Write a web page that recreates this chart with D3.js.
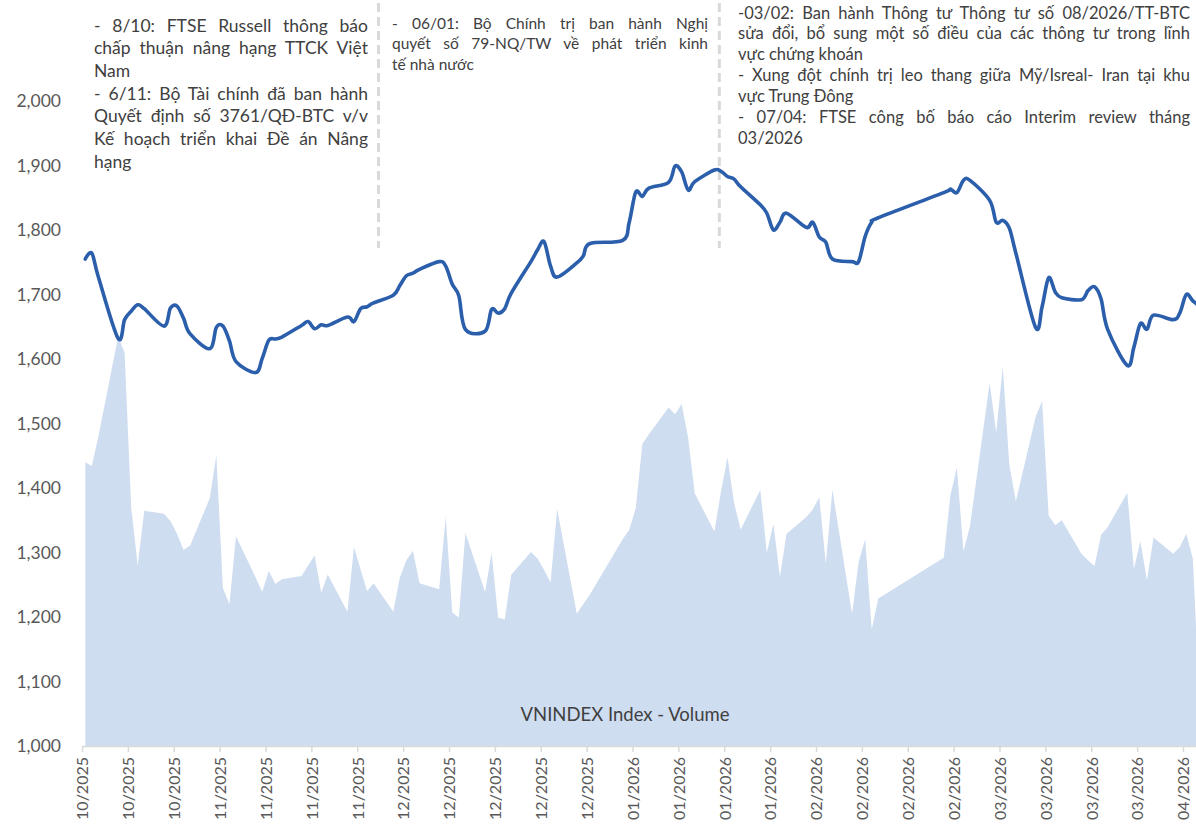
<!DOCTYPE html>
<html>
<head>
<meta charset="utf-8">
<script src="https://cdn.jsdelivr.net/npm/d3@7/dist/d3.min.js"></script>
<style>
  body { margin: 0; background: #fff; }
  svg text { font-family: Lato, "Noto Sans", sans-serif; }
</style>
</head>
<body>
<svg id="chart" width="1196" height="835"></svg>
<script>
// trading days shown on the chart
var dates = [
  "2025-10-15","2025-10-16","2025-10-17","2025-10-20","2025-10-21","2025-10-22","2025-10-23","2025-10-24",
  "2025-10-27","2025-10-28","2025-10-29","2025-10-30","2025-10-31",
  "2025-11-03","2025-11-04","2025-11-05","2025-11-06","2025-11-07","2025-11-10","2025-11-11","2025-11-12",
  "2025-11-13","2025-11-14","2025-11-17","2025-11-18","2025-11-19","2025-11-20","2025-11-21","2025-11-24",
  "2025-11-25","2025-11-26","2025-11-27","2025-11-28",
  "2025-12-01","2025-12-02","2025-12-03","2025-12-04","2025-12-05","2025-12-08","2025-12-09","2025-12-10",
  "2025-12-11","2025-12-12","2025-12-15","2025-12-16","2025-12-17","2025-12-18","2025-12-19","2025-12-22",
  "2025-12-23","2025-12-24","2025-12-25","2025-12-26","2025-12-29","2025-12-30","2025-12-31",
  "2026-01-05","2026-01-06","2026-01-07","2026-01-08","2026-01-09","2026-01-12","2026-01-13","2026-01-14",
  "2026-01-15","2026-01-16","2026-01-19","2026-01-20","2026-01-21","2026-01-22","2026-01-23","2026-01-26",
  "2026-01-27","2026-01-28","2026-01-29","2026-01-30",
  "2026-02-02","2026-02-03","2026-02-04","2026-02-05","2026-02-06","2026-02-09","2026-02-10","2026-02-11",
  "2026-02-12","2026-02-13","2026-02-23","2026-02-24","2026-02-25","2026-02-26","2026-02-27",
  "2026-03-02","2026-03-03","2026-03-04","2026-03-05","2026-03-06","2026-03-09","2026-03-10","2026-03-11",
  "2026-03-12","2026-03-13","2026-03-16","2026-03-17","2026-03-18","2026-03-19","2026-03-20","2026-03-23",
  "2026-03-24","2026-03-25","2026-03-26","2026-03-27","2026-03-30","2026-03-31",
  "2026-04-01","2026-04-02","2026-04-03"
];

// VNINDEX close (points)
var closes = [
  1755,1764,1727,1632,1661,1674,1684,1678,1651,1679,1682,1663,1639,
  1616,1649,1651,1628,1596,1579,1601,1629,1631,1634,1652,1658,1647,1653,1652,1665,1658,1678,1681,1687,
  1699,1714,1729,1733,1739,1751,1744,1716,1698,1646,1643,1677,1671,1678,1702,1751,1769,1782,1744,1727,1749,1760,1779,
  1784,1812,1859,1852,1865,1874,1899,1890,1862,1875,1893,1891,1883,1879,1867,1839,1826,1800,1812,1826,
  1804,1812,1789,1781,1755,1751,1751,1790,1812,1819,1858,1863,1858,1877,1877,
  1846,1812,1815,1803,1764,1649,1681,1726,1704,1695,1692,1706,1712,1693,1646,1590,1618,1655,1646,1668,1661,1671,
  1700,1690,1682
];

// matched volume (million shares, hidden secondary axis)
var volumes = [
  1100,1085,1200,1585,1526,927,700,912,900,872,823,760,777,
  961,1127,612,550,813,653,597,678,628,646,659,700,738,594,665,520,771,685,601,631,
  520,653,720,757,631,608,890,517,498,826,597,749,498,490,664,752,727,683,634,919,513,550,587,
  801,838,922,1171,1208,1312,1286,1326,1193,979,831,986,1119,942,838,993,749,860,656,823,
  887,917,964,705,993,513,712,801,453,572,730,971,1079,754,853,
  1408,1215,1470,1090,949,1274,1337,893,856,875,745,720,698,819,848,982,686,794,641,808,745,771,
  823,727,180
];

var yTicks = [1000,1100,1200,1300,1400,1500,1600,1700,1800,1900,2000];
var volumeMax = 2500;
var seriesLabel = "VNINDEX Index - Volume";
var dividerDates = ["2025-11-29","2026-01-20"];

var note1 = [
  ["- 8/10: FTSE Russell thông báo", "chấp thuận nâng hạng TTCK Việt", "Nam"],
  ["- 6/11: Bộ Tài chính đã ban hành", "Quyết định số 3761/QĐ-BTC v/v", "Kế hoạch triển khai Đề án Nâng", "hạng"]
];
var note2 = [
  ["- 06/01: Bộ Chính trị ban hành Nghị", "quyết số 79-NQ/TW về phát triển kinh", "tế nhà nước"]
];
var note3 = [
  ["-03/02: Ban hành Thông tư Thông tư số 08/2026/TT-BTC", "sửa đổi, bổ sung một số điều của các thông tư trong lĩnh", "vực chứng khoán"],
  ["- Xung đột chính trị leo thang giữa Mỹ/Isreal- Iran tại khu", "vực Trung Đông"],
  ["- 07/04: FTSE công bố báo cáo Interim review tháng", "03/2026"]
];

var parse = d3.timeParse("%Y-%m-%d");
var noon = function(s) { return d3.timeHour.offset(parse(s), 12); };

var data = dates.map(function(s, i) {
  return { date: noon(s), close: closes[i], vol: volumes[i] };
});

var svg = d3.select('#chart');
var width = 1196;
var height = 835;
var axis_y = 746;
var top_y = 101;

var x = d3.scaleTime()
    .domain([parse("2025-10-15"), parse("2026-04-01")])
    .range([82, 1183]);
var y = d3.scaleLinear().domain([1000, 2000]).range([axis_y, top_y]);
var yv = d3.scaleLinear().domain([0, volumeMax]).range([axis_y, top_y]);

// volume area
var area = d3.area()
    .x(function(d) { return x(d.date); })
    .y0(yv(0))
    .y1(function(d) { return yv(d.vol); });
svg.append('path')
    .datum(data)
    .attr('d', area)
    .attr('fill', '#cfddf1');

// x axis, weekly ticks
var tickDates = d3.timeWednesday.range(parse("2025-10-15"), parse("2026-04-02"));
var xAxis = d3.axisBottom(x)
    .tickValues(tickDates)
    .tickFormat(d3.timeFormat("%m/%Y"))
    .tickSize(6)
    .tickSizeOuter(0);
var gx = svg.append('g')
    .attr('transform', 'translate(0,' + axis_y + ')')
    .call(xAxis);
gx.select('.domain').remove();
gx.append('line')
    .attr('x1', 82).attr('x2', width)
    .attr('y1', 0.5).attr('y2', 0.5)
    .attr('stroke', '#d9d9d9').attr('stroke-width', 1.5);
gx.selectAll('.tick line').attr('stroke', '#d9d9d9').attr('stroke-width', 1.5);
gx.selectAll('.tick text')
    .attr('transform', 'rotate(-90)')
    .attr('text-anchor', 'end')
    .attr('x', -11)
    .attr('y', 0)
    .attr('dy', '0.36em')
    .attr('fill', '#595959')
    .style('font-size', '16px')
    .style('font-family', 'Lato, "Noto Sans", sans-serif');

// y labels (no axis line)
svg.append('g').selectAll('text')
    .data(yTicks)
    .enter().append('text')
    .attr('x', 61)
    .attr('y', function(d) { return y(d); })
    .attr('dy', '0.36em')
    .attr('text-anchor', 'end')
    .attr('fill', '#595959')
    .style('font-size', '17.5px')
    .text(d3.format(","));

// event dividers
svg.append('g').selectAll('line')
    .data(dividerDates)
    .enter().append('line')
    .attr('x1', function(d) { return x(d3.timeHour.offset(parse(d), 6)); })
    .attr('x2', function(d) { return x(d3.timeHour.offset(parse(d), 6)); })
    .attr('y1', 3).attr('y2', 248)
    .attr('stroke', '#d9d9d9')
    .attr('stroke-width', 3)
    .attr('stroke-dasharray', '9,5');

// index line
var line = d3.line()
    .curve(d3.curveCardinal.tension(0))
    .x(function(d) { return x(d.date); })
    .y(function(d) { return y(d.close); });
svg.append('path')
    .datum(data)
    .attr('d', line)
    .attr('fill', 'none')
    .attr('stroke', '#2b5eab')
    .attr('stroke-width', 3.6)
    .attr('stroke-linejoin', 'round')
    .attr('stroke-linecap', 'round');

// series label
svg.append('text')
    .attr('x', 625).attr('y', 721)
    .attr('text-anchor', 'middle')
    .attr('fill', '#404040')
    .style('font-size', '18.5px')
    .text(seriesLabel);

// justified note blocks
var draw_note = function(paras, left, right, first, lh, size) {
    var g = svg.append('g');
    var k = 0;
    paras.forEach(function(p) {
        p.forEach(function(txt, i) {
            var t = g.append('text')
                .attr('x', left)
                .attr('y', first + k * lh)
                .attr('fill', '#404040')
                .style('font-size', size + 'px')
                .text(txt);
            if (i < p.length - 1) {
                var w = t.node().getComputedTextLength();
                var gaps = txt.split(' ').length - 1;
                if (gaps > 0) t.style('word-spacing', ((right - left - w) / gaps) + 'px');
            }
            k++;
        });
    });
};
draw_note(note1, 94, 368, 31.5, 22.7, 17.5);
draw_note(note2, 392, 708, 28.5, 20.5, 15.5);
draw_note(note3, 738, 1190, 18.5, 20.9, 16.5);
</script>
</body>
</html>
